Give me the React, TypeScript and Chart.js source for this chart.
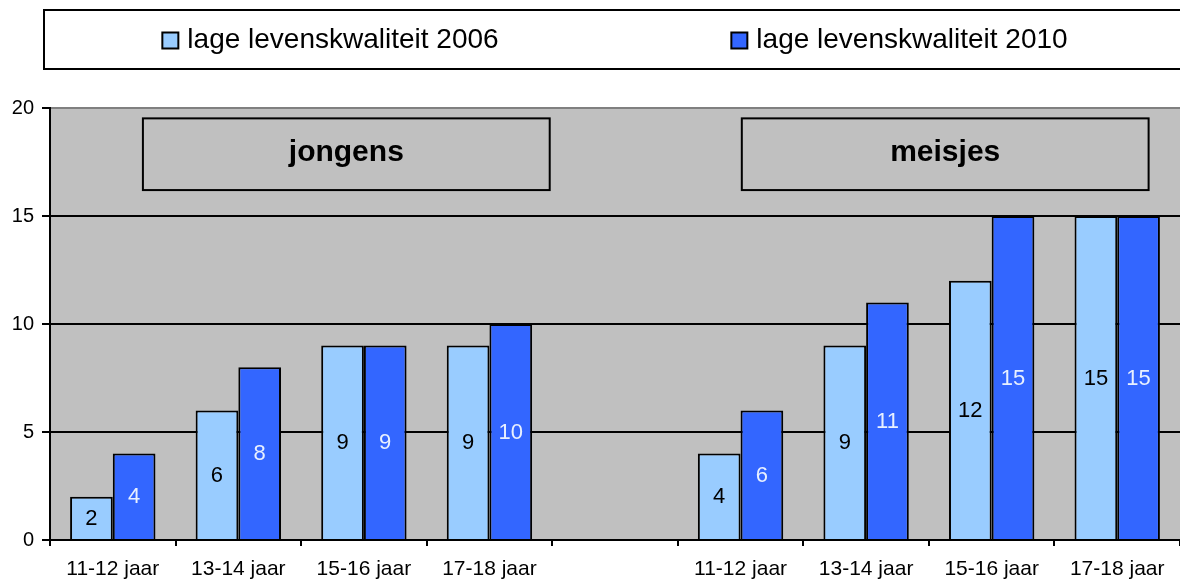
import React, { useEffect, useRef } from "react";
import { Chart, registerables } from "chart.js";

Chart.register(...registerables);

const categories = [
  "11-12 jaar",
  "13-14 jaar",
  "15-16 jaar",
  "17-18 jaar",
  "",
  "11-12 jaar",
  "13-14 jaar",
  "15-16 jaar",
  "17-18 jaar",
];
const values2006 = [2, 6, 9, 9, null, 4, 9, 12, 15];
const values2010 = [4, 8, 9, 10, null, 6, 11, 15, 15];
const seriesLabels = ["lage levenskwaliteit 2006", "lage levenskwaliteit 2010"];
const seriesColors = ["#99CCFF", "#3366FF"];
const valueLabelColors = ["#000000", "#E8F0FF"];
const groupTitles = ["jongens", "meisjes"];

const FONT = "'Liberation Sans', Arial, sans-serif";

const plotBgPlugin = {
  id: "plotBg",
  beforeDraw(chart: any) {
    const { ctx, chartArea } = chart;
    ctx.save();
    ctx.fillStyle = "#C0C0C0";
    ctx.fillRect(chartArea.left, chartArea.top, chartArea.right - chartArea.left, chartArea.bottom - chartArea.top);
    ctx.restore();
  },
};

const valueLabelPlugin = {
  id: "valueLabels",
  afterDatasetsDraw(chart: any) {
    const { ctx } = chart;
    ctx.save();
    ctx.font = `22px ${FONT}`;
    ctx.textAlign = "center";
    ctx.textBaseline = "middle";
    chart.data.datasets.forEach((ds: any, di: number) => {
      const meta = chart.getDatasetMeta(di);
      meta.data.forEach((bar: any, i: number) => {
        const v = ds.data[i];
        if (v === null || v === undefined) return;
        const p = bar.getProps(["x", "y", "base"], true);
        ctx.fillStyle = valueLabelColors[di];
        ctx.fillText(String(v), p.x, (p.y + p.base) / 2 + 1);
      });
    });
    ctx.restore();
  },
};

const legendBoxPlugin = {
  id: "legendBox",
  afterDraw(chart: any) {
    const { ctx } = chart;
    const left = 44;
    const right = chart.width + 2;
    const top = 10;
    const bottom = 69;
    ctx.save();
    ctx.fillStyle = "#FFFFFF";
    ctx.fillRect(left, top, right - left, bottom - top);
    ctx.strokeStyle = "#000000";
    ctx.lineWidth = 2;
    ctx.strokeRect(left, top, right - left, bottom - top);
    ctx.font = `28px ${FONT}`;
    ctx.textBaseline = "middle";
    ctx.textAlign = "left";
    const half = (right - left) / 2;
    const cy = (top + bottom) / 2 + 1;
    chart.data.datasets.forEach((ds: any, i: number) => {
      const sq = 16;
      const gap = 9;
      const tw = ctx.measureText(ds.label).width;
      const w = sq + gap + tw;
      const cx = left + half * (i + 0.5) + 2;
      const x0 = cx - w / 2;
      ctx.fillStyle = ds.backgroundColor;
      ctx.fillRect(x0, cy - sq / 2, sq, sq);
      ctx.lineWidth = 2;
      ctx.strokeStyle = "#000000";
      ctx.strokeRect(x0, cy - sq / 2, sq, sq);
      ctx.fillStyle = "#000000";
      ctx.fillText(ds.label, x0 + sq + gap, cy);
    });
    ctx.restore();
  },
};

const groupBoxPlugin = {
  id: "groupBoxes",
  afterDatasetsDraw(chart: any) {
    const { ctx } = chart;
    const xs = chart.scales.x;
    const ys = chart.scales.y;
    const spans = [
      [0.24, 3.48],
      [5.01, 8.25],
    ];
    ctx.save();
    spans.forEach((s, i) => {
      const x1 = xs.getPixelForValue(s[0]);
      const x2 = xs.getPixelForValue(s[1]);
      const y1 = ys.getPixelForValue(19.52);
      const y2 = ys.getPixelForValue(16.2);
      ctx.fillStyle = "#C0C0C0";
      ctx.fillRect(x1, y1, x2 - x1, y2 - y1);
      ctx.strokeStyle = "#000000";
      ctx.lineWidth = 2;
      ctx.strokeRect(x1, y1, x2 - x1, y2 - y1);
      ctx.fillStyle = "#000000";
      ctx.font = `bold 30px ${FONT}`;
      ctx.textAlign = "center";
      ctx.textBaseline = "middle";
      ctx.fillText(groupTitles[i], (x1 + x2) / 2, (y1 + y2) / 2 - 1);
    });
    ctx.restore();
  },
};

export default function App() {
  const ref = useRef<HTMLCanvasElement | null>(null);
  useEffect(() => {
    if (!ref.current) return;
    const chart = new Chart(ref.current, {
      type: "bar",
      data: {
        labels: categories,
        datasets: [
          {
            label: seriesLabels[0],
            data: values2006,
            backgroundColor: seriesColors[0],
            borderColor: "#000000",
            borderWidth: 2,
            categoryPercentage: 0.68,
            barPercentage: 1,
          },
          {
            label: seriesLabels[1],
            data: values2010,
            backgroundColor: seriesColors[1],
            borderColor: "#000000",
            borderWidth: 2,
            categoryPercentage: 0.68,
            barPercentage: 1,
          },
        ],
      },
      options: {
        responsive: false,
        animation: false,
        layout: { padding: { top: 108, left: 0, right: 0, bottom: 0 } },
        plugins: {
          legend: { display: false },
          tooltip: { enabled: false },
          title: { display: false },
        },
        scales: {
          x: {
            offset: true,
            grid: {
              offset: true,
              drawOnChartArea: false,
              drawTicks: true,
              tickLength: 6,
              color: "#000000",
              lineWidth: 2,
            },
            border: { display: true, color: "#000000", width: 2 },
            ticks: {
              color: "#000000",
              font: { family: FONT, size: 21 },
              padding: 11,
              maxRotation: 0,
              autoSkip: false,
            },
            afterFit(scale: any) {
              scale.height = 42;
            },
          },
          y: {
            min: 0,
            max: 20,
            ticks: {
              stepSize: 5,
              color: "#000000",
              font: { family: FONT, size: 20 },
              padding: 8,
            },
            grid: {
              color: (c: any) => (c.tick && c.tick.value === 20 ? "#808080" : "#000000"),
              tickColor: "#000000",
              lineWidth: 2,
              tickLength: 8,
            },
            border: { display: true, color: "#000000", width: 2 },
            afterFit(scale: any) {
              scale.width = 50;
            },
          },
        },
      },
      plugins: [plotBgPlugin, groupBoxPlugin, valueLabelPlugin, legendBoxPlugin],
    });
    return () => chart.destroy();
  }, []);
  return (
    <div style={{ position: "fixed", left: 0, top: 0, width: 1180, height: 582, background: "#FFFFFF" }}>
      <canvas ref={ref} width={1180} height={582} style={{ display: "block" }} />
    </div>
  );
}
